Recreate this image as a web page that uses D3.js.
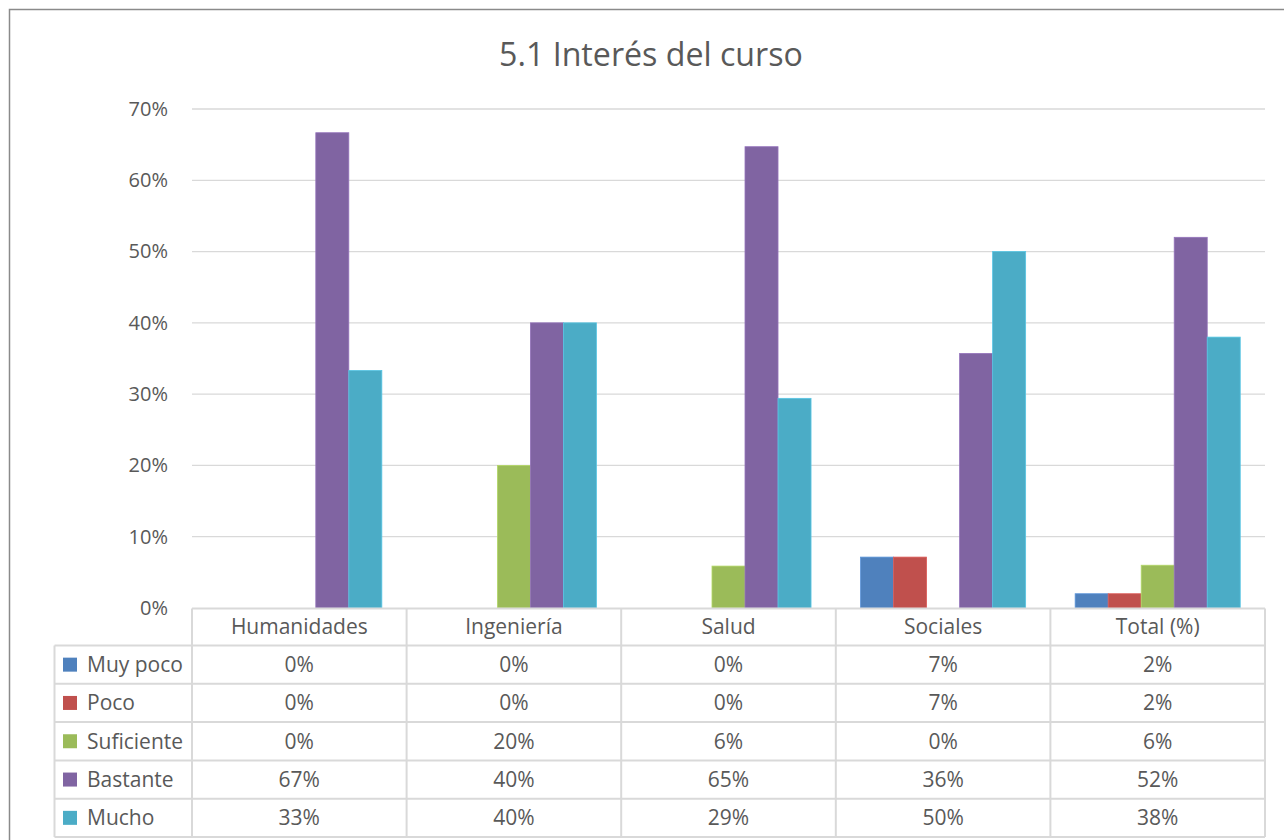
<!DOCTYPE html>
<html><head><meta charset="utf-8">
<script src="https://cdn.jsdelivr.net/npm/d3@7"></script>
<style>html,body{margin:0;padding:0;background:#fff;overflow:hidden}</style>
</head><body>
<svg id="c" width="1284" height="840"></svg>
<script>
const title = "5.1 Interés del curso";
const categories = ["Humanidades","Ingeniería","Salud","Sociales","Total (%)"];
const seriesNames = ["Muy poco","Poco","Suficiente","Bastante","Mucho"];
const muyPoco   = [0, 0, 0, 0.0714, 0.02];
const poco      = [0, 0, 0, 0.0714, 0.02];
const suficiente= [0, 0.20, 0.0588, 0, 0.06];
const bastante  = [0.6667, 0.40, 0.6471, 0.3571, 0.52];
const mucho     = [0.3333, 0.40, 0.2941, 0.50, 0.38];
const tableLabels = [
  ["0%","0%","0%","7%","2%"],
  ["0%","0%","0%","7%","2%"],
  ["0%","20%","6%","0%","6%"],
  ["67%","40%","65%","36%","52%"],
  ["33%","40%","29%","50%","38%"]
];
const yTicks = [0,0.1,0.2,0.3,0.4,0.5,0.6,0.7];
const colors = ["#4F81BD","#C0504D","#9BBB59","#8064A2","#4BACC6"];

const series = [muyPoco, poco, suficiente, bastante, mucho];
const svg = d3.select("#c");
const font = "'Open Sans', sans-serif";
const textCol = "#595959";
const lineCol = "#d9d9d9";
const fs = 21;

// outer border
svg.append("rect").attr("x",9.5).attr("y",9.5).attr("width",1400).attr("height",1000)
  .attr("fill","none").attr("stroke","#8a8a8a").attr("stroke-width",1.5);

const x0 = 192, x1 = 1265, yTop = 109, yBot = 608;
const x = d3.scaleBand().domain(categories).range([x0,x1]).paddingInner(0).paddingOuter(0);
const y = d3.scaleLinear().domain([0,0.7]).range([yBot,yTop]);
const bw = x.bandwidth()/6.5;
const xs = d3.scaleBand().domain(seriesNames).range([0.75*bw, x.bandwidth()-0.75*bw]);

// title
const t = svg.append("text").attr("x",651).attr("y",66).attr("text-anchor","middle")
  .attr("font-family",font).attr("font-size",31).attr("fill",textCol).text(title);
const tw = t.node().getComputedTextLength();
t.attr("font-size", 31*304/tw);

// gridlines
svg.append("g").selectAll("line").data(yTicks.slice(1)).join("line")
  .attr("x1",x0).attr("x2",x1).attr("y1",d=>y(d)).attr("y2",d=>y(d))
  .attr("stroke",lineCol).attr("stroke-width",1.3);

// y axis labels
const yAxis = d3.axisLeft(y).tickValues(yTicks).tickFormat(d3.format(".0%")).tickSize(0).tickPadding(24);
const ga = svg.append("g").attr("transform",`translate(${x0},0)`).call(yAxis);
ga.select(".domain").remove();
ga.selectAll("text").attr("font-family",font).attr("font-size",20).attr("fill",textCol);

// bars
seriesNames.forEach((s,si)=>{
  svg.append("g").selectAll("rect").data(categories).join("rect")
    .attr("x",c=>x(c)+xs(s)).attr("width",xs.bandwidth())
    .attr("y",(c,ci)=>y(series[si][ci])).attr("height",(c,ci)=>yBot-y(series[si][ci]))
    .attr("fill",colors[si])
    .attr("stroke", d3.color(colors[si]).brighter(0.4)).attr("stroke-width",0.8)
    .attr("display",(c,ci)=>series[si][ci]>0?null:"none");
});

// data table
const rowTop = 608.5, headH = 37, rowH = 38.3, tLeft = 54.5;
const tbl = svg.append("g");
const nRows = seriesNames.length;
const tBottom = rowTop + headH + nRows*rowH;
tbl.append("line").attr("x1",x0).attr("x2",x1).attr("y1",rowTop).attr("y2",rowTop)
  .attr("stroke",lineCol).attr("stroke-width",2);
for(let r=0;r<=nRows;r++){
  const yy = rowTop+headH+r*rowH;
  tbl.append("line").attr("x1",tLeft).attr("x2",x1).attr("y1",yy).attr("y2",yy)
    .attr("stroke",lineCol).attr("stroke-width",2);
}
categories.forEach(c=>{
  tbl.append("line").attr("x1",x(c)).attr("x2",x(c)).attr("y1",rowTop).attr("y2",tBottom)
    .attr("stroke",lineCol).attr("stroke-width",2);
});
tbl.append("line").attr("x1",x1).attr("x2",x1).attr("y1",rowTop).attr("y2",tBottom)
  .attr("stroke",lineCol).attr("stroke-width",2);
tbl.append("line").attr("x1",tLeft).attr("x2",tLeft).attr("y1",rowTop+headH).attr("y2",tBottom)
  .attr("stroke",lineCol).attr("stroke-width",2);

tbl.selectAll("text.h").data(categories).join("text").attr("class","h")
  .attr("x",c=>x(c)+x.bandwidth()/2).attr("y",rowTop+headH/2).attr("dy","0.35em")
  .attr("text-anchor","middle").attr("font-family",font).attr("font-size",fs).attr("fill",textCol)
  .text(c=>c);
seriesNames.forEach((s,si)=>{
  const cy = rowTop+headH+si*rowH+rowH/2;
  tbl.append("rect").attr("x",63).attr("y",cy-7).attr("width",14).attr("height",14).attr("fill",colors[si]);
  tbl.append("text").attr("x",87).attr("y",cy).attr("dy","0.35em")
    .attr("font-family",font).attr("font-size",fs).attr("fill",textCol).text(s);
  tbl.append("g").selectAll("text").data(categories).join("text")
    .attr("x",c=>x(c)+x.bandwidth()/2).attr("y",cy).attr("dy","0.35em")
    .attr("text-anchor","middle").attr("font-family",font).attr("font-size",fs).attr("fill",textCol)
    .text((c,ci)=>tableLabels[si][ci]);
});
</script>
</body></html>
